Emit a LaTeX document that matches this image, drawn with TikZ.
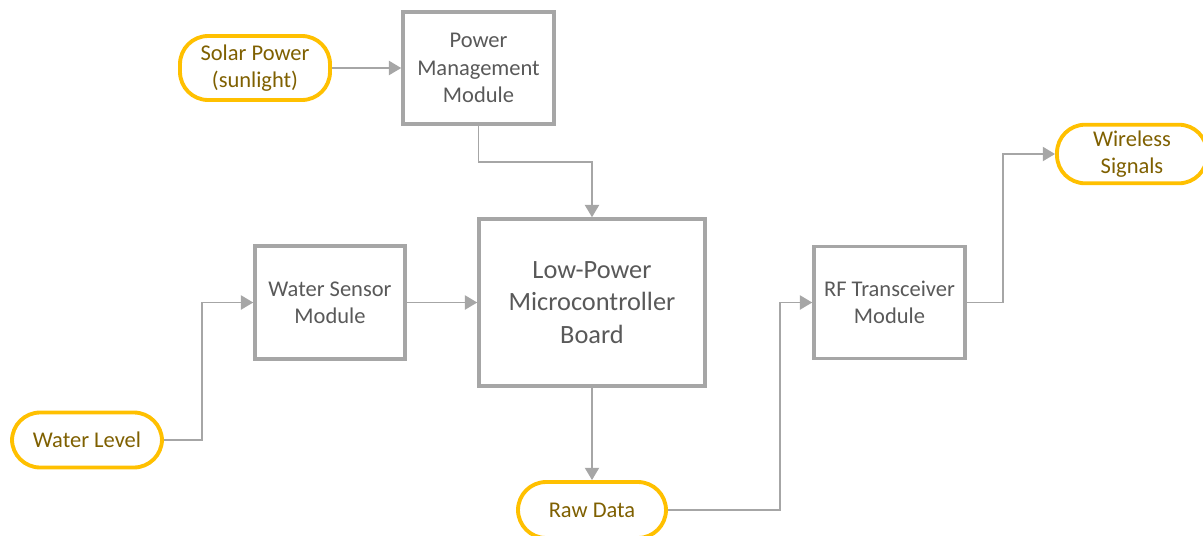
\documentclass[tikz,border=0pt]{standalone}
\usepackage{fontspec}
\setmainfont{Carlito}
\usepackage{tikz}
\usetikzlibrary{arrows.meta,positioning,shapes}
\definecolor{boxgray}{HTML}{A6A6A6}
\definecolor{textgray}{HTML}{595959}
\definecolor{gold}{HTML}{FFC000}
\definecolor{olive}{HTML}{7F6000}

\begin{document}
\begin{tikzpicture}[line width=1.1pt,
	block/.style = {draw = boxgray, line width = 2pt, fill = white, text = textgray, align = center,
		font = \fontsize{12.8}{15.6}\selectfont, inner sep = 2pt},
	terminal/.style = {draw = gold, line width = 2.2pt, fill = white, text = olive, align = center,
		rounded corners = 16pt, font = \fontsize{12.8}{15.6}\selectfont, minimum width = 3cm},
	link/.style = {draw = boxgray, -{Triangle[length=7pt, width=8pt]}}]

	\useasboundingbox (0,0) rectangle (24.06,-10.70);

	% terminals
	\node[terminal, minimum height = 1.28cm] (solar) at (5.10,-1.36) {Solar Power\\(sunlight)};
	\node[terminal, minimum height = 1.10cm] (level) at (1.74,-8.80) {Water Level};
	\node[terminal, minimum height = 1.12cm, minimum width = 2.96cm] (raw) at (11.84,-10.20) {Raw Data};
	\node[terminal, minimum height = 1.16cm] (wireless) at (22.64,-3.08) {Wireless\\Signals};

	% blocks
	\node[block, minimum width = 3.02cm, minimum height = 2.24cm] (power) at (9.57,-1.36) {Power\\Management\\Module};
	\node[block, minimum width = 4.52cm, minimum height = 3.34cm, font = \fontsize{15}{18.4}\selectfont] (mcu) at (11.84,-6.05) {Low-Power\\Microcontroller\\Board};
	\node[block, minimum width = 3.00cm, minimum height = 2.26cm] (sensor) at (6.60,-6.05) {Water Sensor\\Module};
	\node[block, minimum width = 3.02cm, minimum height = 2.24cm] (rf) at (17.79,-6.05) {RF Transceiver\\Module};

	% connectors
	\draw[link] (solar) -- (power);
	\draw[link] (power.south) -- ++(0,-0.72) -| (mcu.north);
	\draw[link] (level.east) -- ++(0.76,0) |- (sensor.west);
	\draw[link] (sensor) -- (mcu);
	\draw[link] (mcu) -- (raw);
	\draw[link] (raw.east) -- ++(2.24,0) |- (rf.west);
	\draw[link] (rf.east) -- ++(0.72,0) |- (wireless.west);
\end{tikzpicture}
\end{document}
